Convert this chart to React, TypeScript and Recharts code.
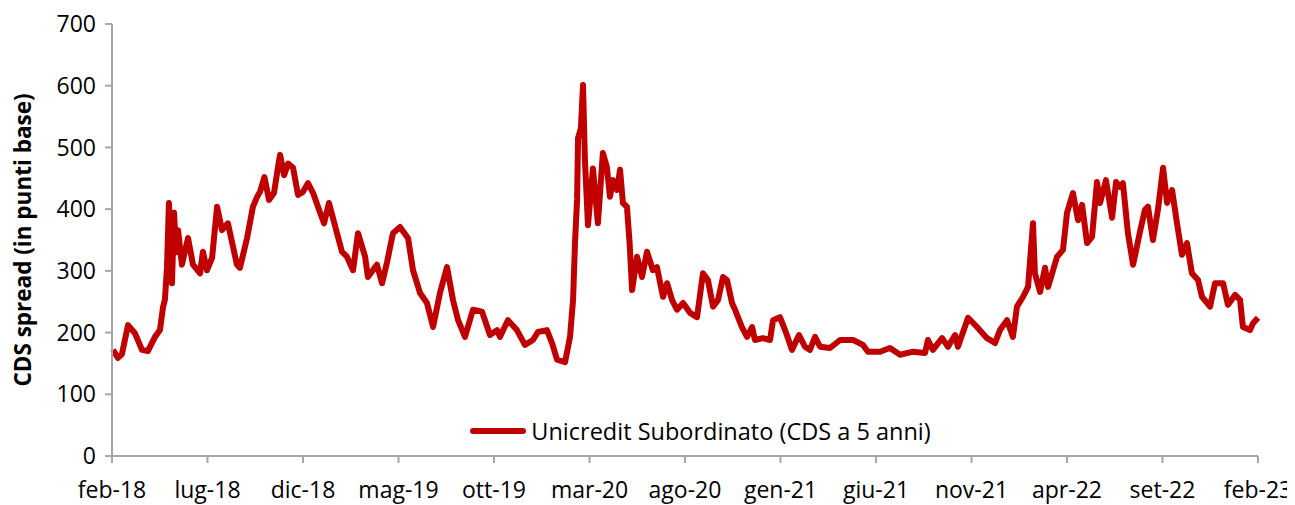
import React from "react";
import { LineChart, Line, XAxis, YAxis, Legend } from "recharts";

// [months since feb-18, CDS spread in bp]
const seg2018: [number, number][] = [
  [0.05, 172], [0.31, 159], [0.52, 165], [0.84, 212], [1.2, 199], [1.57, 172], [1.88, 170],
  [2.25, 193], [2.51, 204], [2.67, 241], [2.77, 253], [2.88, 306], [2.98, 410], [3.09, 340],
  [3.14, 280], [3.25, 394], [3.35, 330], [3.46, 366], [3.66, 310], [3.98, 353], [4.24, 310],
  [4.61, 296], [4.76, 331], [4.97, 301], [5.24, 321], [5.5, 404], [5.76, 366], [6.07, 377],
  [6.54, 310], [6.7, 305], [7.07, 353], [7.38, 404], [7.6, 420], [7.75, 428], [7.98, 452],
  [8.22, 415], [8.48, 426], [8.69, 468], [8.8, 488], [9.01, 455], [9.22, 474], [9.48, 467],
  [9.74, 423], [10.0, 428], [10.26, 442], [10.53, 426], [10.84, 399], [11.1, 377], [11.36, 410],
];
const seg2019: [number, number][] = [
  [11.78, 361], [12.04, 331], [12.3, 323], [12.62, 301], [12.88, 361], [13.25, 323],
  [13.4, 290], [13.87, 310], [14.14, 280], [14.4, 314], [14.71, 361], [15.08, 371], [15.5, 353],
  [15.76, 301], [16.13, 264], [16.49, 248], [16.81, 209], [17.17, 264], [17.54, 306],
  [17.85, 253], [18.12, 220], [18.48, 193], [18.9, 237], [19.37, 234], [19.79, 196],
  [20.16, 204], [20.31, 193], [20.73, 220], [21.2, 204], [21.62, 180], [22.04, 188],
  [22.3, 201], [22.77, 204], [23.04, 183], [23.3, 156], [23.72, 152],
];
const seg2020: [number, number][] = [
  [23.98, 193], [24.14, 253], [24.24, 345], [24.35, 415], [24.4, 515], [24.55, 531],
  [24.66, 601], [24.76, 480], [24.92, 374], [25.18, 466], [25.44, 377], [25.7, 491],
  [25.91, 468], [26.07, 420], [26.23, 447], [26.44, 431], [26.6, 464], [26.75, 410],
  [26.96, 404], [27.1, 345], [27.23, 269], [27.49, 323], [27.75, 290], [28.01, 331],
  [28.32, 301], [28.53, 306], [28.85, 258], [29.06, 280], [29.32, 253], [29.58, 237],
  [29.9, 248], [30.26, 232], [30.63, 225], [30.94, 296], [31.2, 285], [31.47, 242],
  [31.73, 253], [31.99, 290], [32.2, 285], [32.46, 248], [32.62, 237], [32.98, 209],
  [33.25, 193], [33.51, 209], [33.66, 188], [34.08, 191], [34.45, 188], [34.61, 220],
  [34.97, 225], [35.24, 204], [35.6, 172],
];
const seg2021: [number, number][] = [
  [35.97, 196], [36.28, 177], [36.54, 172], [36.81, 193], [37.07, 177], [37.59, 175],
  [38.12, 188], [38.8, 188], [39.32, 180], [39.58, 169], [40.21, 169], [40.73, 175],
  [41.26, 164], [41.94, 169], [42.57, 167], [42.72, 188], [42.98, 172], [43.46, 191],
  [43.77, 177], [44.14, 196], [44.29, 177], [44.82, 224], [45.29, 209], [45.81, 191],
  [46.23, 183], [46.49, 204], [46.86, 220], [47.17, 193], [47.38, 242], [47.7, 258],
];
const seg2022: [number, number][] = [
  [47.96, 274], [48.22, 377], [48.32, 296], [48.59, 266], [48.85, 305], [49.01, 274],
  [49.27, 301], [49.48, 323], [49.79, 334], [50.0, 394], [50.31, 426], [50.58, 382],
  [50.79, 407], [51.05, 345], [51.31, 355], [51.57, 444], [51.73, 410], [52.04, 447],
  [52.36, 386], [52.57, 444], [52.77, 436], [52.93, 442], [53.19, 361], [53.46, 310],
  [53.82, 363], [54.08, 399], [54.24, 404], [54.5, 350], [54.76, 399], [55.03, 467],
  [55.24, 410], [55.5, 431], [55.76, 377], [56.02, 326], [56.28, 345], [56.54, 296],
  [56.86, 285], [57.07, 258], [57.49, 242], [57.75, 280], [58.17, 280], [58.43, 245],
  [58.8, 261], [59.06, 253], [59.21, 209], [59.58, 204], [59.74, 215], [60.0, 224],
];

const tickLabels = [
  "feb-18", "lug-18", "dic-18", "mag-19", "ott-19", "mar-20", "ago-20",
  "gen-21", "giu-21", "nov-21", "apr-22", "set-22", "feb-23",
];
const xTicks = tickLabels.map((_, i) => i * 5);
const yTicks = [0, 100, 200, 300, 400, 500, 600, 700];
const seriesName = "Unicredit Subordinato (CDS a 5 anni)";

const data = [...seg2018, ...seg2019, ...seg2020, ...seg2021, ...seg2022].map(([t, v]) => ({ t, v }));

const FONT = "'Open Sans', sans-serif";
const RED = "#C00000";
const AXIS = "#A6A6A6";

const LegendContent = () => (
  <div style={{ display: "flex", alignItems: "center", justifyContent: "center", fontFamily: FONT, fontSize: 23.5, color: "#000", lineHeight: "30px" }}>
    <svg width={58} height={12} style={{ marginRight: 4 }}>
      <line x1={4} y1={6} x2={54} y2={6} stroke={RED} strokeWidth={6} strokeLinecap="round" />
    </svg>
    <span>{seriesName}</span>
  </div>
);

export default function App() {
  return (
    <div style={{ fontFamily: FONT }}>
      <LineChart width={1287} height={497} data={data} margin={{ top: 16, right: 37, left: 4, bottom: 0 }}>
        <XAxis
          dataKey="t"
          type="number"
          domain={[0, 60]}
          ticks={xTicks}
          tickFormatter={(v: number) => tickLabels[Math.round(v / 5)]}
          stroke={AXIS}
          strokeWidth={2}
          tickSize={7}
          tickMargin={19}
          height={49}
          tick={{ fill: "#000", fontSize: 23, fontFamily: FONT }}
          interval={0}
        />
        <YAxis
          type="number"
          domain={[0, 700]}
          ticks={yTicks}
          stroke={AXIS}
          strokeWidth={2}
          tickSize={7}
          tickMargin={9}
          width={100}
          tick={{ fill: "#000", fontSize: 23, fontFamily: FONT }}
          interval={0}
          label={{
            value: "CDS spread (in punti base)",
            angle: -90,
            position: "insideLeft",
            offset: 11,
            style: { textAnchor: "middle", fontWeight: 700, fontSize: 22.5, fill: "#000", fontFamily: FONT },
          }}
        />
        <Legend
          verticalAlign="middle"
          layout="horizontal"
          content={<LegendContent />}
          wrapperStyle={{ position: "absolute", top: 408, left: 119, width: 1146 }}
        />
        <Line
          type="linear"
          dataKey="v"
          name={seriesName}
          stroke={RED}
          strokeWidth={6}
          dot={false}
          isAnimationActive={false}
          strokeLinejoin="round"
        />
      </LineChart>
    </div>
  );
}
